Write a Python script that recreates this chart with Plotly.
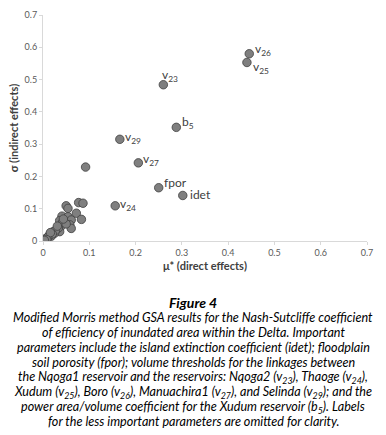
import plotly.graph_objects as go

# ---- data ----
mu_star = [0.4456, 0.4406, 0.260, 0.288, 0.166, 0.206, 0.092, 0.250, 0.302, 0.156,
           0.077, 0.0864, 0.050, 0.054, 0.041, 0.072, 0.054, 0.036, 0.061, 0.083,
           0.047, 0.058, 0.038, 0.061, 0.029, 0.036, 0.022, 0.025, 0.0145, 0.018,
           0.007, 0.000, 0.012, 0.004, 0.042, 0.050, 0.033, 0.027, 0.020, 0.010,
           0.016, 0.008, 0.003, 0.031, 0.044]
sigma = [0.580, 0.553, 0.484, 0.352, 0.315, 0.242, 0.229, 0.165, 0.141, 0.109,
         0.119, 0.117, 0.109, 0.101, 0.077, 0.086, 0.075, 0.063, 0.065, 0.067,
         0.055, 0.050, 0.044, 0.039, 0.036, 0.029, 0.029, 0.024, 0.019, 0.015,
         0.008, 0.001, 0.015, 0.006, 0.057, 0.053, 0.040, 0.033, 0.022, 0.011,
         0.026, 0.004, 0.002, 0.046, 0.068]
point_labels = ["v<sub>26</sub>", "v<sub>25</sub>", "v<sub>23</sub>", "b<sub>5</sub>",
                "v<sub>29</sub>", "v<sub>27</sub>", "", "fpor", "idet", "v<sub>24</sub>"]
point_labels += [""] * (len(mu_star) - len(point_labels))

x_ticks = [0, 0.1, 0.2, 0.3, 0.4, 0.5, 0.6, 0.7]
x_tick_text = ["0", "0.1", "0.2", "0.3", "0.4", "0.5", "0.6", "0.7"]
y_ticks = [0, 0.1, 0.2, 0.3, 0.4, 0.5, 0.6, 0.7]
y_tick_text = ["0", "0.1", "0.2", "0.3", "0.4", "0.5", "0.6", "0.7"]

fig_title = "Figure 4"
caption_lines = [
    "Modified Morris method GSA results for the Nash-Sutcliffe coefficient",
    "of efficiency of inundated area within the Delta. Important",
    "parameters include the island extinction coefficient (idet); floodplain",
    "soil porosity (fpor); volume thresholds for the linkages between",
    "the Nqoga1 reservoir and the reservoirs: Nqoga2 (v<sub>23</sub>), Thaoge (v<sub>24</sub>),",
    "Xudum (v<sub>25</sub>), Boro (v<sub>26</sub>), Manuachira1 (v<sub>27</sub>), and Selinda (v<sub>29</sub>); and the",
    "power area/volume coefficient for the Xudum reservoir (b<sub>5</sub>). Labels",
    "for the less important parameters are omitted for clarity.",
]

# label offsets (pixels) keyed by label text -- styling only
label_offsets = {
    "v<sub>26</sub>": (4, 4), "v<sub>25</sub>": (4, -5), "v<sub>23</sub>": (-3, 9),
    "b<sub>5</sub>": (4, 5), "v<sub>29</sub>": (3, 2), "v<sub>27</sub>": (3, 3),
    "fpor": (3, 5), "idet": (5, 1), "v<sub>24</sub>": (3, 1),
}

W, H = 386, 435
L, R, T, B = 43, 19, 15, 194
plot_h = H - T - B
plot_w = W - L - R


def py(px_from_top):
    return (H - B - px_from_top) / plot_h


def pxx(px_from_left):
    return (px_from_left - L) / plot_w


fig = go.Figure()
fig.add_trace(go.Scatter(
    x=mu_star, y=sigma, mode="markers",
    marker=dict(size=8.5, color="#7f7f7f", line=dict(color="#404040", width=0.8)),
    hoverinfo="skip", showlegend=False,
))

for xv, yv, lab in zip(mu_star, sigma, point_labels):
    if not lab:
        continue
    dx, dy = label_offsets.get(lab, (3, 0))
    fig.add_annotation(x=xv, y=yv, xref="x", yref="y", text=lab, showarrow=False,
                       xanchor="left", yanchor="middle", xshift=dx, yshift=dy,
                       font=dict(family="Lato", size=12, color="#404040"))

axis_common = dict(showgrid=False, zeroline=False, showline=True, linecolor="#d9d9d9",
                   linewidth=1, ticks="outside", ticklen=3, tickcolor="#d9d9d9",
                   automargin=False,
                   tickfont=dict(family="Lato", size=9, color="#595959"))
fig.update_xaxes(range=[0, 0.7], tickvals=x_ticks, ticktext=x_tick_text,
                 title=dict(text="<b>μ* (direct effects)</b>", standoff=5,
                            font=dict(family="Lato", size=11, color="#404040")),
                 **axis_common)
fig.update_yaxes(range=[0, 0.7], tickvals=y_ticks, ticktext=y_tick_text,
                 title=dict(text="<b>σ (indirect effects)</b>", standoff=3,
                            font=dict(family="Lato", size=11, color="#404040")),
                 **axis_common)

fig.add_annotation(x=pxx(W / 2), y=py(302), xref="paper", yref="paper",
                   text="<b><i>" + fig_title + "</i></b>", showarrow=False,
                   yanchor="middle", font=dict(family="Lato", size=14, color="#000000"))

line_y = [317, 332, 347, 362, 377, 392, 407, 421]
for ln, yy in zip(caption_lines, line_y):
    fig.add_annotation(x=pxx(W / 2), y=py(yy), xref="paper", yref="paper",
                       text="<i>" + ln + "</i>", showarrow=False,
                       xanchor="center", yanchor="middle",
                       font=dict(family="Lato", size=12.6, color="#000000"))

fig.update_layout(width=W, height=H, margin=dict(l=L, r=R, t=T, b=B, autoexpand=False),
                  paper_bgcolor="white", plot_bgcolor="white")
fig.write_html("out.html", config={"displayModeBar": False, "staticPlot": True},
               post_script="document.body.style.margin='0';document.body.style.overflow='hidden';")
